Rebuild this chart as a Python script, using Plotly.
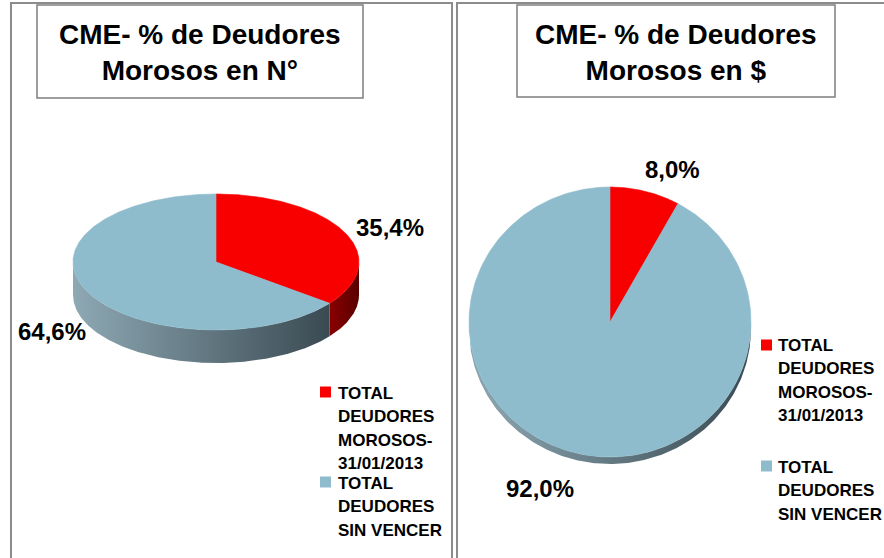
import numpy as np
import plotly.graph_objects as go

# ---------------- data ----------------
categories = ["TOTAL DEUDORES MOROSOS-31/01/2013", "TOTAL DEUDORES SIN VENCER"]
legend_lines = [["TOTAL", "DEUDORES", "MOROSOS-", "31/01/2013"],
                ["TOTAL", "DEUDORES", "SIN VENCER"]]
pct_count = [35.4, 64.6]     # % de deudores morosos en N°
pct_amount = [8.0, 92.0]     # % de deudores morosos en $
titles = ["CME- % de Deudores<br>Morosos en N°", "CME- % de Deudores<br>Morosos en $"]

# ---------------- style ----------------
top_colors = ["#f80000", "#8fbccc"]
side_grads = [[[0, "#8a0000"], [1, "#5a0000"]],
              [[0, "#8ea9b4"], [1, "#3a4a52"]]]
FONT = "Liberation Sans"
W, H = 884, 558


def arc(cx, cy, rx, ry, t1, t2, n=240):
    t = np.radians(np.linspace(t1, t2, n))
    return cx + rx * np.sin(t), cy - ry * np.cos(t)


def pie3d(values, cx, cy, rx, ry, depth):
    total = float(sum(values))
    start = 0.0
    sides, tops = [], []
    for i, v in enumerate(values):
        end = start + 360.0 * v / total
        a, b = max(start, 90.0), min(end, 270.0)
        if b > a:
            xt, yt = arc(cx, cy, rx, ry, a, b)
            xs = np.concatenate([xt, xt[::-1], xt[:1]])
            ys = np.concatenate([yt, yt[::-1] + depth, yt[:1]])
            sides.append(go.Scatter(
                x=xs, y=ys, mode="lines", fill="toself", line=dict(width=0),
                fillcolor=side_grads[i][1][1],
                fillgradient=dict(type="horizontal", colorscale=side_grads[i]),
                hoverinfo="skip", showlegend=False))
        xt, yt = arc(cx, cy, rx, ry, start, end)
        xs = np.concatenate([[cx], xt, [cx]])
        ys = np.concatenate([[cy], yt, [cy]])
        tops.append(go.Scatter(
            x=xs, y=ys, mode="lines", fill="toself",
            line=dict(width=0.6, color=top_colors[i]),
            fillcolor=top_colors[i], hoverinfo="skip", showlegend=False))
        start = end
    return sides + tops


fig = go.Figure()
for tr in pie3d(pct_count, 216, 262, 143, 68, 33):
    fig.add_trace(tr)
for tr in pie3d(pct_amount, 610, 322, 141, 135, 7):
    fig.add_trace(tr)


def fmt(v):
    return f"{v:.1f}".replace(".", ",") + "%"


ann = []
# slice labels
for txt, (x, y) in zip([fmt(v) for v in pct_count], [(390, 227), (52, 331)]):
    ann.append(dict(x=x, y=y, text="<b>" + txt + "</b>"))
for txt, (x, y) in zip([fmt(v) for v in pct_amount], [(672, 169), (540, 488)]):
    ann.append(dict(x=x, y=y, text="<b>" + txt + "</b>"))
annotations = [dict(xref="x", yref="y", showarrow=False, xanchor="center", yanchor="middle",
                    font=dict(family=FONT, size=24, color="black"), **a) for a in ann]

# titles
for t, x in zip(titles, [200, 676]):
    annotations.append(dict(xref="x", yref="y", x=x, y=52, text="<b>" + t + "</b>",
                            showarrow=False, xanchor="center", yanchor="middle",
                            font=dict(family=FONT, size=28, color="black")))

# legends
legend_layout = [
    dict(sq_x=325.5, text_x=336, starts=[393, 483], sq_y=[392, 482]),
    dict(sq_x=766.5, text_x=776, starts=[345, 467], sq_y=[345, 466]),
]
step = 23.6
for lg in legend_layout:
    for k, lines in enumerate(legend_lines):
        for j, ln in enumerate(lines):
            annotations.append(dict(xref="x", yref="y", x=lg["text_x"], y=lg["starts"][k] + j * step,
                                    text="<b>" + ln + "</b>", showarrow=False,
                                    xanchor="left", yanchor="middle",
                                    font=dict(family=FONT, size=17, color="black")))
    fig.add_trace(go.Scatter(x=[lg["sq_x"]] * len(categories), y=lg["sq_y"], mode="markers",
                             marker=dict(symbol="square", size=11, color=top_colors,
                                         line=dict(width=0)),
                             text=categories, hoverinfo="text", showlegend=False))

shapes = [
    dict(type="rect", xref="x", yref="y", x0=11, x1=452, y0=3, y1=600,
         line=dict(color="#8c8c8c", width=2)),
    dict(type="rect", xref="x", yref="y", x0=457, x1=900, y0=3, y1=600,
         line=dict(color="#8c8c8c", width=2)),
    dict(type="rect", xref="x", yref="y", x0=37, x1=363, y0=5, y1=98,
         line=dict(color="#7f7f7f", width=1.5)),
    dict(type="rect", xref="x", yref="y", x0=517, x1=835, y0=5, y1=97,
         line=dict(color="#7f7f7f", width=1.5)),
]

fig.update_layout(
    width=W, height=H, autosize=False,
    margin=dict(l=0, r=0, t=0, b=0),
    paper_bgcolor="white", plot_bgcolor="white",
    xaxis=dict(range=[0, W], visible=False, fixedrange=True),
    yaxis=dict(range=[H, 0], visible=False, fixedrange=True),
    annotations=annotations, shapes=shapes, showlegend=False,
)

fig.write_html("out.html",
               config={"displayModeBar": False},
               post_script="document.body.style.margin='0';document.body.style.overflow='hidden';")
